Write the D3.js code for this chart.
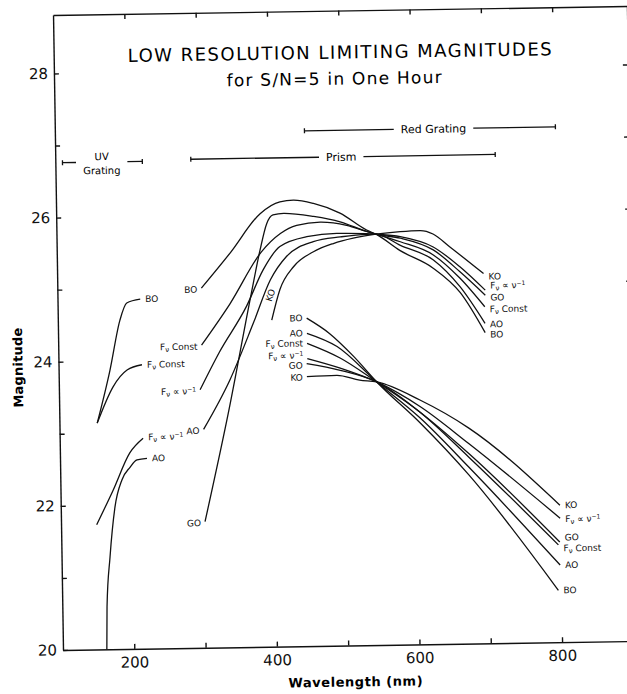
<!DOCTYPE html>
<html lang="en">
<head>
<meta charset="UTF-8">
<script src="https://d3js.org/d3.v7.min.js"></script>
<style>
    body { margin: 0; background: #fff; }
    svg { display: block; font-family: "DejaVu Sans", "Liberation Sans", sans-serif; }
    .curve { fill: none; stroke: #111; stroke-width: 1.3px; }
    .axis path, .axis line { stroke: #111; stroke-width: 1.4px; }
    .axis text { font-size: 15px; fill: #111; font-family: "DejaVu Sans", sans-serif; }
    .lbl { font-size: 9px; fill: #111; }
    .bar { stroke: #111; stroke-width: 1.3px; }
</style>
</head>
<body>
<div id="chart"></div>
<script>
// wavelength (nm), limiting magnitude
// UV grating
const uvBO     = [[153, 23.14], [172, 23.87], [187, 24.56], [197, 24.80], [216, 24.85]];
const uvFconst = [[153, 23.14], [176, 23.64], [196, 23.87], [217, 23.94]];
const uvFnu    = [[150, 21.73], [174, 22.21], [198, 22.72], [217, 22.92]];
const uvAO     = [[161.5, 20.0], [162.7, 20.59], [168, 21.28], [176, 21.97], [186.5, 22.35], [198, 22.52], [208, 22.62], [222, 22.64]];

// Prism
const prBO     = [[302, 24.99], [343, 25.47], [386, 26.01], [414, 26.17], [433, 26.19], [461, 26.14], [498, 26.00], [535, 25.76], [548, 25.70], [581, 25.47], [627, 25.22], [665, 24.87], [699, 24.31]];
const prGO     = [[302, 21.75], [337, 23.25], [372, 24.91], [385, 25.50], [395, 25.87], [404, 25.99], [419, 26.01], [461, 25.96], [498, 25.88], [535, 25.74], [548, 25.70], [582, 25.64], [628, 25.47], [665, 25.16], [700, 24.83]];
const prFconst = [[301, 24.20], [342, 24.77], [387, 25.48], [414, 25.73], [437, 25.84], [470, 25.88], [507, 25.83], [535, 25.74], [548, 25.70], [582, 25.59], [628, 25.40], [665, 25.07], [699, 24.67]];
const prFnu    = [[298, 23.58], [326, 24.10], [365, 24.73], [389, 25.23], [413, 25.55], [451, 25.68], [493, 25.72], [535, 25.71], [548, 25.70], [582, 25.66], [628, 25.51], [665, 25.23], [700, 24.90]];
const prAO     = [[302, 23.03], [340, 23.71], [374, 24.49], [399, 25.09], [422, 25.41], [460, 25.61], [498, 25.67], [535, 25.70], [548, 25.70], [582, 25.54], [628, 25.33], [665, 24.95], [699, 24.44]];
const prKO     = [[400, 24.53], [412, 24.95], [432, 25.27], [460, 25.47], [488, 25.58], [516, 25.65], [548, 25.70], [582, 25.73], [610, 25.74], [628, 25.69], [651, 25.51], [698, 25.13]];

// Red grating
const rgBO     = [[449, 24.55], [481, 24.33], [514, 24.01], [546, 23.65], [606, 23.07], [673, 22.34], [796, 20.72]];
const rgAO     = [[449, 24.34], [491, 24.15], [546, 23.65], [606, 23.14], [673, 22.45], [799, 21.07]];
const rgFconst = [[449, 24.20], [495, 23.99], [546, 23.65], [606, 23.22], [673, 22.59], [797, 21.35]];
const rgFnu    = [[449, 23.99], [495, 23.85], [546, 23.65], [606, 23.30], [673, 22.78], [800, 21.72]];
const rgGO     = [[448, 23.92], [495, 23.82], [546, 23.65], [606, 23.22], [673, 22.64], [799, 21.39]];
const rgKO     = [[448, 23.74], [490, 23.75], [522, 23.68], [546, 23.65], [606, 23.39], [674, 22.99], [800, 21.90]];

const uvNames = ["BO", "Fconst", "Fnu", "AO"];
const prNames = ["BO", "GO", "Fconst", "Fnu", "AO", "KO"];
const rgNames = ["BO", "AO", "Fconst", "Fnu", "GO", "KO"];

// instrument ranges
const barLabels = [["UV", "Grating"], ["Prism"], ["Red Grating"]];
const barFrom   = [110, 290, 450];
const barTo     = [222, 717, 802];
const barLevel  = [26.76, 26.78, 27.15];
const barMid    = [165, 501, 631];

const yTicks = [20, 21, 22, 23, 24, 25, 26, 27, 28];
const xTicks = [200, 300, 400, 500, 600, 700, 800];

const W = 627, H = 694;
const x = d3.scaleLinear().domain([100, 905]).range([63, 637]);
const y = d3.scaleLinear().domain([20, 28.81]).range([650, 15]);

const svg = d3.select("#chart").append("svg").attr("width", W).attr("height", H);
svg.append("rect").attr("width", W).attr("height", H).attr("fill", "#fff");
// the scanned figure sits slightly tilted
const g = svg.append("g").attr("transform", "rotate(-0.9 63 650)");

// axes, ticks pointing inward
g.append("g").attr("class", "axis").attr("transform", "translate(63,0)")
    .call(d3.axisLeft(y).tickValues(yTicks).tickSizeInner(-5).tickSizeOuter(0).tickPadding(6)
        .tickFormat(d => d % 2 === 0 ? d : ""));
g.append("g").attr("class", "axis").attr("transform", "translate(0,650)")
    .call(d3.axisBottom(x).tickValues(xTicks).tickSizeInner(-5).tickSizeOuter(0).tickPadding(8)
        .tickFormat(d => d % 200 === 0 ? d : ""));
g.append("g").attr("class", "axis").attr("transform", "translate(0,15)")
    .call(d3.axisTop(x).tickValues(xTicks).tickSizeInner(-5).tickSizeOuter(0).tickFormat(""));
g.append("g").attr("class", "axis").attr("transform", "translate(637,0)")
    .call(d3.axisRight(y).tickValues(yTicks.slice(1)).tickSizeInner(-5).tickSizeOuter(0).tickFormat(""));

// titles
g.append("text").attr("x", 349).attr("y", 63).attr("text-anchor", "middle")
    .attr("font-size", 18).attr("textLength", 424).attr("lengthAdjust", "spacing")
    .text("LOW RESOLUTION LIMITING MAGNITUDES");
g.append("text").attr("x", 343).attr("y", 89).attr("text-anchor", "middle")
    .attr("font-size", 17).attr("textLength", 215).attr("lengthAdjust", "spacing")
    .text("for S/N=5 in One Hour");
g.append("text").attr("x", 355).attr("y", 691).attr("text-anchor", "middle")
    .attr("font-size", 13).attr("font-weight", "bold").attr("textLength", 134).attr("lengthAdjust", "spacing")
    .text("Wavelength (nm)");
g.append("text").attr("transform", "translate(27,367) rotate(-90)").attr("text-anchor", "middle")
    .attr("font-size", 13).attr("font-weight", "bold").attr("textLength", 80).attr("lengthAdjust", "spacing")
    .text("Magnitude");

// instrument range bars
barLabels.forEach((lines, i) => {
    const yy = y(barLevel[i]);
    const cx = x(barMid[i]);
    let w = 0;
    lines.forEach((s, j) => {
        const t = g.append("text").attr("x", cx).attr("text-anchor", "middle")
            .attr("font-size", lines.length > 1 ? 10 : 11)
            .attr("y", lines.length > 1 ? (j === 0 ? yy - 2 : yy + 12) : yy + 4)
            .text(s);
        w = Math.max(w, t.node().getComputedTextLength());
    });
    const gap = 7;
    g.append("line").attr("class", "bar").attr("x1", x(barFrom[i])).attr("x2", cx - w / 2 - gap).attr("y1", yy).attr("y2", yy);
    g.append("line").attr("class", "bar").attr("x1", cx + w / 2 + gap).attr("x2", x(barTo[i])).attr("y1", yy).attr("y2", yy);
    [barFrom[i], barTo[i]].forEach(v => {
        g.append("line").attr("class", "bar").attr("x1", x(v)).attr("x2", x(v)).attr("y1", yy - 2.5).attr("y2", yy + 2.5);
    });
});

// curves
const line = d3.line().x(d => x(d[0])).y(d => y(d[1])).curve(d3.curveMonotoneX);

function writeLabel(text, key) {
    if (key === "Fconst" || key === "Fnu") {
        text.append("tspan").text("F");
        text.append("tspan").attr("dy", 2).attr("font-size", 7).text("ν");
        if (key === "Fconst") {
            text.append("tspan").attr("dy", -2).text(" Const");
        } else {
            text.append("tspan").attr("dy", -2).text(" ∝ ν");
            text.append("tspan").attr("dy", -3).attr("font-size", 6).text("−1");
        }
    } else {
        text.text(key);
    }
}

function label(pt, key, dx, dy, anchor) {
    const t = g.append("text").attr("class", "lbl")
        .attr("x", x(pt[0]) + dx).attr("y", y(pt[1]) + dy + 3)
        .attr("text-anchor", anchor);
    writeLabel(t, key);
}

function drawSet(names, sets, startLabels, endLabels) {
    sets.forEach((pts, i) => {
        g.append("path").attr("class", "curve").attr("d", line(pts));
        const key = names[i];
        if (startLabels && startLabels[key] !== undefined) label(pts[0], key, -4, startLabels[key], "end");
        if (endLabels && endLabels[key] !== undefined) label(pts[pts.length - 1], key, 5, endLabels[key], "start");
    });
}

drawSet(uvNames, [uvBO, uvFconst, uvFnu, uvAO], null, {BO: 0, Fconst: 0, Fnu: -1, AO: 0});
drawSet(prNames, [prBO, prGO, prFconst, prFnu, prAO, prKO],
    {BO: 1.5, GO: 1.5, Fconst: 1.5, Fnu: 1.5, AO: 1.5},
    {KO: 3, Fnu: -4.5, GO: 2.5, Fconst: 2.5, AO: 1, BO: 2});
drawSet(rgNames, [rgBO, rgAO, rgFconst, rgFnu, rgGO, rgKO],
    {BO: 0, AO: 0, Fconst: 0, Fnu: -3, GO: 2, KO: 1},
    {KO: 0, Fnu: 1, GO: -4.5, Fconst: 3.5, AO: 0, BO: 0});

// rotated KO tag beside the prism KO curve
const k0 = prKO[0];
g.append("text").attr("class", "lbl").attr("text-anchor", "middle")
    .attr("transform", `translate(${x(k0[0]) + 2},${y(k0[1]) - 24}) rotate(-72)`)
    .text("KO");
</script>
</body>
</html>
